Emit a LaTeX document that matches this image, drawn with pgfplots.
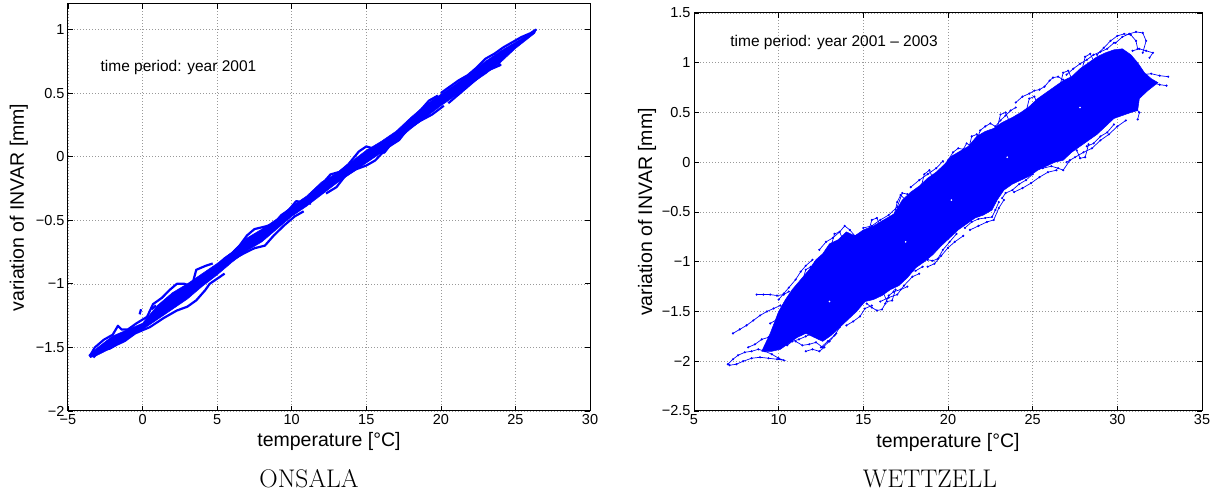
\documentclass[border=0pt]{standalone}
\usepackage{fontspec}
\setsansfont{Liberation Sans}
\usepackage{pgfplots}
\pgfplotsset{compat=1.18}

\pgfplotsset{
  mstyle/.style={
    scale only axis,
    axis line style={black, line width=1pt},
    tick align=inside, tick pos=both,
    major tick length=5pt,
    tick style={black, line width=0.7pt},
    grid=major,
    major grid style={gray!80, dash pattern=on 1pt off 2pt, line width=0.6pt},
    tick label style={font=\fontsize{14.5}{16}\selectfont\sffamily},
    label style={font=\fontsize{19.5}{22}\selectfont\sffamily},
    xlabel={temperature [°C]},
    ylabel={variation of INVAR [mm]},
    every axis y label/.append style={anchor=center},
    every axis x label/.append style={anchor=center},
  },
  band/.style={blue, fill=blue, line width=0.5pt},
  loopline/.style={blue, line width=2.2pt, line join=round},
  strand/.style={blue, line width=0.7pt, mark=*, mark size=0.7pt},
  speck/.style={white, only marks, mark=*, mark size=0.6pt},
}

\begin{document}
\begin{tikzpicture}
\path[use as bounding box] (0,0) rectangle (1227pt,495pt);

% ---------------- ONSALA ----------------
\begin{axis}[mstyle,
  at={(68pt,84pt)}, anchor=south west,
  width=522pt, height=407pt,
  xmin=-5, xmax=30, ymin=-2, ymax=1.2,
  xtick={-5,0,5,10,15,20,25,30},
  xticklabels={−5,0,5,10,15,20,25,30},
  ytick={-2,-1.5,-1,-0.5,0,0.5,1},
  yticklabels={−2,−1.5,−1,−0.5,0,0.5,1},
  ylabel style={at={(axis description cs:-0.094,0.5)}},
  xlabel style={at={(axis description cs:0.5,-0.076)}},
]
\addplot[band] coordinates {
(-3.6,-1.56) (-3.0,-1.50) (-2.0,-1.41) (-1.0,-1.36) (0.0,-1.31) (1.0,-1.17)
(2.0,-1.07) (3.0,-1.00) (4.0,-0.92) (5.0,-0.84) (6.0,-0.75) (7.0,-0.64)
(8.0,-0.57) (9.0,-0.49) (10.0,-0.39) (11.0,-0.31) (12.0,-0.20) (13.0,-0.13)
(14.0,-0.04) (15.0,0.05) (16.0,0.12) (17.0,0.20) (18.0,0.31) (19.0,0.41)
(20.0,0.49) (21.0,0.57) (22.0,0.66) (23.0,0.75) (24.0,0.83) (25.0,0.90)
(26.0,0.97) (26.4,1.0)
(26.3,0.97) (25.0,0.85) (24.0,0.74) (23.0,0.65) (22.0,0.57) (21.0,0.48)
(20.0,0.40) (19.0,0.31) (18.0,0.22) (17.0,0.12) (16.0,0.03) (15.0,-0.05)
(14.0,-0.13) (13.0,-0.21) (12.0,-0.30) (11.0,-0.39) (10.0,-0.47) (9.0,-0.57)
(8.0,-0.67) (7.0,-0.74) (6.0,-0.83) (5.0,-0.93) (4.0,-1.02) (3.0,-1.12)
(2.0,-1.20) (1.0,-1.28) (0.0,-1.36) (-1.0,-1.43) (-2.0,-1.50) (-3.0,-1.56)
(-3.5,-1.58) (-3.6,-1.56)
};
\addplot[loopline] coordinates {
(-3.55,-1.57) (-3.2,-1.50) (-2.6,-1.44) (-2.0,-1.40) (-1.65,-1.33) (-1.4,-1.36)
(-1.0,-1.36) (-0.4,-1.31) (0.3,-1.26) (0.7,-1.16) (1.3,-1.11) (1.8,-1.05)
(2.3,-1.00) (2.8,-1.00) (3.3,-1.02) (3.6,-0.89) (4.2,-0.86) (4.7,-0.84)
};
\addplot[loopline] coordinates {
(-3.3,-1.58) (-2.9,-1.53) (-2.2,-1.51) (-1.75,-1.48) (-1.2,-1.45) (-0.5,-1.39)
(0.5,-1.34) (1.4,-1.27) (2.0,-1.23) (2.3,-1.21) (3.0,-1.18) (3.6,-1.13)
(4.2,-1.05) (4.5,-1.00) (5.5,-0.92)
};
\addplot[loopline] coordinates {
(-2.6,-1.50) (-2.0,-1.46) (-1.5,-1.44) (-1.0,-1.41) (-1.5,-1.40) (-2.0,-1.43)
};
\addplot[loopline] coordinates {
(5.0,-0.86) (5.5,-0.80) (6.0,-0.76) (6.5,-0.70) (7.0,-0.62) (7.5,-0.57)
(8.2,-0.55) (8.8,-0.53) (9.3,-0.46) (9.8,-0.42) (10.3,-0.35) (10.8,-0.36)
(11.3,-0.37)
};
\addplot[loopline] coordinates {
(6.2,-0.80) (6.8,-0.76) (7.5,-0.72) (8.2,-0.70) (8.8,-0.62) (9.5,-0.54)
(10.2,-0.47) (10.8,-0.43)
};
\addplot[loopline] coordinates {
(11.2,-0.30) (12.0,-0.22) (12.6,-0.14) (13.2,-0.12) (13.8,-0.06) (14.5,0.04)
(15.0,0.08) (15.6,0.06) (16.2,0.03) (16.8,0.12) (17.4,0.22) (18.0,0.28)
(18.6,0.36) (19.2,0.44) (19.8,0.48)
};
\addplot[loopline] coordinates {
(12.3,-0.29) (13.0,-0.24) (13.6,-0.15) (14.3,-0.10) (15.0,-0.07) (15.6,-0.03)
(16.4,0.07) (17.2,0.13) (17.8,0.22) (18.6,0.28) (19.4,0.33) (20.2,0.40)
};
\addplot[loopline] coordinates {
(20.0,0.50) (20.6,0.55) (21.2,0.60) (21.8,0.64) (22.4,0.70) (23.0,0.77)
(23.6,0.81) (24.2,0.86) (24.8,0.90) (25.4,0.94) (26.0,0.97) (26.4,1.0)
};
\addplot[loopline] coordinates {
(20.5,0.42) (21.2,0.49) (21.8,0.55) (22.5,0.62) (23.0,0.67) (23.6,0.70)
(24.0,0.72) (23.7,0.75)
};
\addplot[loopline] coordinates {(-0.2,-1.24) (-0.1,-1.20)};
\addplot[loopline] coordinates {(0.6,-1.20) (0.9,-1.17)};
\node[anchor=west, font=\fontsize{15.5}{17}\selectfont\sffamily]
  at (axis cs:-3.05,0.70) {time period: year 2001};
\end{axis}

% ---------------- WETTZELL ----------------
\begin{axis}[mstyle,
  at={(694pt,84pt)}, anchor=south west,
  width=508pt, height=398pt,
  xmin=5, xmax=35, ymin=-2.5, ymax=1.5,
  xtick={5,10,15,20,25,30,35},
  xticklabels={5,10,15,20,25,30,35},
  ytick={-2.5,-2,-1.5,-1,-0.5,0,0.5,1,1.5},
  yticklabels={−2.5,−2,−1.5,−1,−0.5,0,0.5,1,1.5},
  ylabel style={at={(axis description cs:-0.0925,0.5)}},
  xlabel style={at={(axis description cs:0.5,-0.078)}},
]
% dense core of the cloud
\addplot[band] coordinates {
(9.0,-1.90) (9.5,-1.72) (10.0,-1.50) (10.4,-1.38) (10.8,-1.28) (11.1,-1.22)
(11.4,-1.16) (11.8,-1.08) (12.2,-0.98) (12.6,-0.92) (13.0,-0.82) (13.5,-0.78)
(14.0,-0.70) (14.5,-0.74) (15.0,-0.68) (15.6,-0.64) (16.2,-0.58) (16.8,-0.52)
(17.3,-0.38) (17.8,-0.30) (18.3,-0.24) (18.8,-0.16) (19.3,-0.10) (19.8,-0.02)
(20.2,0.06) (20.7,0.11) (21.2,0.16) (21.7,0.26) (22.2,0.31) (22.7,0.34)
(23.2,0.40) (23.8,0.45) (24.3,0.50) (24.8,0.56) (25.3,0.64) (25.8,0.70)
(26.3,0.76) (26.8,0.82) (27.3,0.86) (27.8,0.94) (28.3,1.00) (28.8,1.06)
(29.3,1.10) (29.8,1.13) (30.3,1.14) (30.8,1.08) (31.2,1.00) (31.6,0.90)
(32.0,0.84) (32.4,0.80)
(31.8,0.72) (31.3,0.64) (31.2,0.52) (30.8,0.50) (30.3,0.47) (29.8,0.44)
(29.3,0.36) (28.8,0.28) (28.3,0.22) (27.8,0.16) (27.3,0.10) (26.8,0.02)
(26.3,0.00) (25.8,-0.04) (25.3,-0.08) (24.8,-0.14) (24.3,-0.18) (23.8,-0.22)
(23.3,-0.28) (22.9,-0.38) (22.6,-0.48) (22.1,-0.53) (21.6,-0.56) (21.1,-0.62)
(20.6,-0.68) (20.1,-0.76) (19.6,-0.84) (19.1,-0.93) (18.6,-1.00) (18.1,-1.06)
(17.6,-1.16) (17.1,-1.24) (16.6,-1.28) (16.1,-1.34) (15.6,-1.38) (15.1,-1.40)
(14.6,-1.50) (14.1,-1.58) (13.6,-1.66) (13.1,-1.74) (12.6,-1.80) (12.1,-1.76)
(11.6,-1.72) (11.1,-1.76) (10.6,-1.82) (10.1,-1.88) (9.6,-1.90) (9.0,-1.90)
};
% trails of dots around the core
\addplot[strand] coordinates {(7.0,-2.03) (7.3,-1.98) (7.6,-1.94) (8.0,-1.91) (8.4,-1.90) (8.8,-1.88) (9.2,-1.90) (9.6,-1.93) (10.0,-1.97) (10.3,-1.99) (9.9,-1.98) (9.4,-1.97) (8.9,-1.96) (8.4,-1.97) (7.9,-2.00) (7.5,-2.03) (7.1,-2.04)};
\addplot[strand] coordinates {(7.3,-1.72) (7.7,-1.68) (8.1,-1.64) (8.5,-1.59) (8.9,-1.54) (9.3,-1.50) (9.7,-1.47) (10.1,-1.44)};
\addplot[strand] coordinates {(8.7,-1.33) (9.1,-1.33) (9.5,-1.33) (9.9,-1.34) (10.3,-1.33) (10.6,-1.30)};
\addplot[strand] coordinates {(8.2,-1.86) (8.6,-1.83) (9.0,-1.78) (9.4,-1.76) (9.8,-1.70) (10.2,-1.62)};
\addplot[strand] coordinates {(9.5,-1.62) (9.9,-1.58) (10.3,-1.55) (10.7,-1.52) (11.0,-1.50)};
\addplot[strand] coordinates {(10.0,-1.38) (10.3,-1.32) (10.6,-1.26) (11.0,-1.18) (11.3,-1.10) (11.6,-1.04) (12.0,-0.98)};
\addplot[strand] coordinates {(11.6,-1.90) (12.0,-1.88) (12.4,-1.90) (12.7,-1.86)};
\addplot[strand] coordinates {(12.5,-1.86) (12.9,-1.80) (13.3,-1.74) (13.6,-1.66) (13.9,-1.58) (14.2,-1.52)};
\addplot[strand] coordinates {(15.2,-1.42) (15.5,-1.46) (15.8,-1.49) (16.1,-1.48) (16.3,-1.42) (16.5,-1.34) (16.8,-1.30)};
\addplot[strand] coordinates {(12.4,-0.88) (12.8,-0.80) (13.2,-0.76) (13.6,-0.70) (13.9,-0.64) (14.2,-0.68) (14.5,-0.74) (14.8,-0.72)};
\addplot[strand] coordinates {(15.0,-0.66) (15.5,-0.64) (16.0,-0.58) (16.5,-0.53) (17.0,-0.45) (17.3,-0.31) (17.6,-0.32)};
\addplot[strand] coordinates {(17.8,-0.25) (18.3,-0.18) (18.8,-0.12) (19.3,-0.06) (19.7,0.01)};
\addplot[strand] coordinates {(20.0,0.02) (20.3,0.10) (20.6,0.14) (20.9,0.13) (21.1,0.19) (21.4,0.16) (21.7,0.22) (21.9,0.32) (22.2,0.36) (22.5,0.39) (22.8,0.36) (23.1,0.42) (23.4,0.47) (23.7,0.52) (24.0,0.55)};
\addplot[strand] coordinates {(24.0,0.60) (24.4,0.66) (24.8,0.69) (25.1,0.72) (25.4,0.73) (25.7,0.76) (26.0,0.82) (26.2,0.85) (26.5,0.86) (26.8,0.83) (26.9,0.78)};
\addplot[strand] coordinates {(27.0,0.88) (27.4,0.94) (27.8,0.99) (28.2,1.03) (28.6,1.08) (29.0,1.11) (29.4,1.14) (29.8,1.20)};
\addplot[strand] coordinates {(28.8,1.08) (29.2,1.15) (29.6,1.22) (30.0,1.27) (30.4,1.29) (30.8,1.28) (31.1,1.22) (31.2,1.14)};
\addplot[strand] coordinates {(29.9,1.20) (30.3,1.26) (30.7,1.29) (31.1,1.31) (31.5,1.30) (31.7,1.22) (31.5,1.10)};
\addplot[strand] coordinates {(30.9,1.12) (31.3,1.14) (31.7,1.12) (32.1,1.10) (31.9,1.05)};
\addplot[strand] coordinates {(31.0,0.85) (31.5,0.88) (32.0,0.89) (32.5,0.87) (33.0,0.86)};
\addplot[strand] coordinates {(31.0,0.78) (31.5,0.80) (32.0,0.80) (32.5,0.78) (32.9,0.77)};
\addplot[strand] coordinates {(30.5,0.60) (31.0,0.56) (31.3,0.50) (31.2,0.43)};
\addplot[strand] coordinates {(29.8,0.38) (29.4,0.30) (29.0,0.26) (28.6,0.19) (28.2,0.16)};
\addplot[strand] coordinates {(27.2,0.02) (26.8,-0.08) (26.5,-0.06) (26.1,-0.04) (25.6,-0.06)};
\addplot[strand] coordinates {(25.0,-0.12) (24.6,-0.18) (24.2,-0.22) (23.8,-0.28) (23.4,-0.31) (23.2,-0.36)};
\addplot[strand] coordinates {(23.0,-0.40) (22.8,-0.48) (22.6,-0.55) (22.2,-0.56) (21.8,-0.57) (21.4,-0.60) (21.0,-0.66)};
\addplot[strand] coordinates {(20.5,-0.72) (20.1,-0.80) (19.7,-0.88) (19.4,-0.97) (19.1,-0.99) (18.8,-0.98)};
\addplot[strand] coordinates {(18.5,-1.05) (18.1,-1.09) (17.7,-1.10) (17.3,-1.12)};
\addplot[strand] coordinates {(17.6,-1.25) (17.2,-1.28) (16.8,-1.30)};
\addplot[strand] coordinates {(14.3,-1.28) (14.1,-1.38) (13.9,-1.50) (13.6,-1.62)};
\addplot[strand] coordinates {(12.0,-1.72) (11.6,-1.75) (11.2,-1.78) (10.8,-1.80) (10.5,-1.84)};
% small loops along the upper edge
\addplot[strand] coordinates {(11.4,-1.20) (11.6,-1.08) (11.9,-1.05) (12.1,-1.12)};
\addplot[strand] coordinates {(13.1,-0.84) (13.3,-0.72) (13.6,-0.70) (13.8,-0.78)};
\addplot[strand] coordinates {(15.3,-0.70) (15.5,-0.58) (15.8,-0.56) (16.0,-0.64)};
\addplot[strand] coordinates {(16.8,-0.55) (17.0,-0.40) (17.2,-0.33) (17.5,-0.38)};
\addplot[strand] coordinates {(18.4,-0.26) (18.6,-0.12) (18.9,-0.08) (19.1,-0.16)};
\addplot[strand] coordinates {(21.2,0.12) (21.4,0.26) (21.7,0.28) (21.9,0.22)};
\addplot[strand] coordinates {(22.9,0.34) (23.1,0.48) (23.4,0.50) (23.6,0.42)};
\addplot[strand] coordinates {(24.6,0.50) (24.8,0.64) (25.1,0.66) (25.3,0.58)};
\addplot[strand] coordinates {(26.6,0.76) (26.8,0.90) (27.1,0.92) (27.3,0.84)};
\addplot[strand] coordinates {(27.9,0.92) (28.1,1.06) (28.4,1.09) (28.6,1.02)};
% trails along the lower edge
\addplot[strand] coordinates {(11.0,-1.80) (11.4,-1.84) (11.8,-1.83) (12.2,-1.81) (12.6,-1.86) (13.0,-1.80) (13.4,-1.72)};
\addplot[strand] coordinates {(14.0,-1.64) (14.4,-1.60) (14.8,-1.55) (15.1,-1.47) (15.5,-1.44)};
\addplot[strand] coordinates {(16.0,-1.40) (16.5,-1.36) (17.0,-1.33) (17.4,-1.24) (17.9,-1.15) (18.3,-1.12)};
\addplot[strand] coordinates {(18.8,-1.05) (19.2,-1.02) (19.6,-0.94) (20.0,-0.86) (20.4,-0.80) (20.9,-0.74)};
\addplot[strand] coordinates {(21.3,-0.68) (21.8,-0.64) (22.3,-0.60) (22.7,-0.58) (23.0,-0.46) (23.3,-0.38)};
\addplot[strand] coordinates {(23.9,-0.30) (24.4,-0.26) (24.9,-0.21) (25.4,-0.15) (25.9,-0.10) (26.4,-0.08)};
\addplot[strand] coordinates {(27.0,0.00) (27.5,0.05) (28.0,0.10) (28.5,0.14) (29.0,0.22) (29.5,0.28) (30.0,0.36) (30.5,0.42)};
\addplot[strand] coordinates {(16.2,-1.32) (16.4,-1.40) (16.7,-1.39) (16.9,-1.28)};
\addplot[strand] coordinates {(27.6,0.12) (27.8,0.04) (28.1,0.05) (28.3,0.18)};
\addplot[speck] coordinates {
(20.2,-0.38) (17.5,-0.80) (23.5,0.05) (13.0,-1.40) (27.8,0.55)
};
\node[anchor=west, font=\fontsize{15.5}{17}\selectfont\sffamily]
  at (axis cs:6.94,1.20) {time period: year 2001 – 2003};
\end{axis}

\node[anchor=base, font=\fontsize{25.5}{30}\selectfont] at (309pt,7pt) {ONSALA};
\node[anchor=base, font=\fontsize{25.5}{30}\selectfont] at (930pt,7pt) {WETTZELL};
\end{tikzpicture}
\end{document}
